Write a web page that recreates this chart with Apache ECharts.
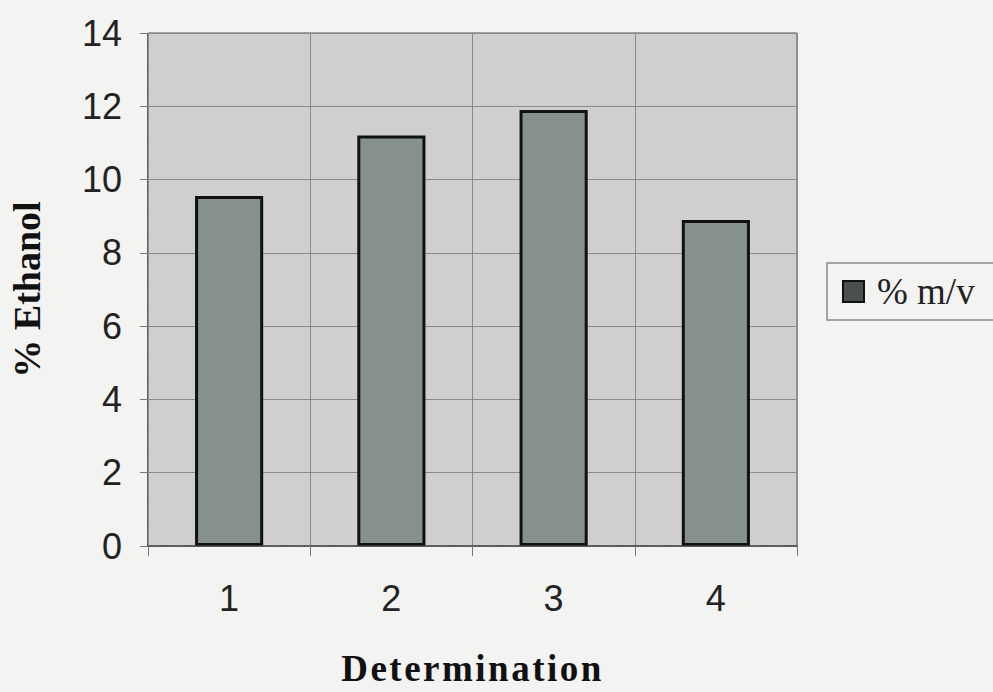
<!DOCTYPE html>
<html>
<head>
<meta charset="utf-8">
<script src="https://cdn.jsdelivr.net/npm/echarts@6/dist/echarts.min.js"></script>
<style>
html,body{margin:0;padding:0;background:#f3f3f1;}
#chart{width:993px;height:692px;}
</style>
</head>
<body>
<div id="chart"></div>
<script>
const categories = ['1', '2', '3', '4'];
const ethanolValues = [9.55, 11.2, 11.9, 8.9];
const seriesName = '% m/v';
const yTicks = [0, 2, 4, 6, 8, 10, 12, 14];
const xTitle = 'Determination';
const yTitle = '% Ethanol';

const chart = echarts.init(document.getElementById('chart'), null, {renderer: 'svg'});
const option = {
  animation: false,
  backgroundColor: '#f3f3f1',
  grid: {
    left: 148, right: 196, top: 33, bottom: 143,
    show: true, backgroundColor: '#cfcfcf', borderColor: '#555', borderWidth: 1
  },
  legend: {
    data: [{name: seriesName, itemStyle: {color: '#4a504c', borderColor: '#111', borderWidth: 2}}],
    left: 827, top: 263,
    padding: [10, 40, 10, 15],
    borderColor: '#8a8a8a', borderWidth: 1.5,
    backgroundColor: 'transparent',
    icon: 'rect', itemWidth: 21, itemHeight: 21, itemGap: 10,
    textStyle: {fontFamily: 'Liberation Serif', fontSize: 37, color: '#222', padding: [0, 0, 0, 8]}
  },
  xAxis: {
    type: 'category',
    data: categories,
    name: xTitle,
    nameLocation: 'middle',
    nameGap: 104,
    nameTextStyle: {fontFamily: 'Liberation Serif', fontWeight: 'bold', fontSize: 37, color: '#111'},
    axisLine: {lineStyle: {color: '#444', width: 1.5, type: 'dotted'}},
    axisTick: {show: true, alignWithLabel: false, length: 10, lineStyle: {color: '#777'}},
    axisLabel: {fontFamily: 'Liberation Sans', fontSize: 36, color: '#222', margin: 34},
    splitLine: {show: true, lineStyle: {color: '#8a8a8a', width: 1}},
    z: 3
  },
  yAxis: {
    type: 'value',
    min: 0, max: 14, interval: 2,
    name: yTitle,
    nameLocation: 'middle',
    nameGap: 102,
    nameTextStyle: {fontFamily: 'Liberation Serif', fontWeight: 'bold', fontSize: 38, color: '#111'},
    axisLine: {show: true, lineStyle: {color: '#444', width: 1.5, type: 'dotted'}},
    axisTick: {show: true, length: 8, lineStyle: {color: '#777'}},
    axisLabel: {fontFamily: 'Liberation Sans', fontSize: 36, color: '#222', margin: 26,
      formatter: v => yTicks.includes(v) ? String(v) : ''},
    splitLine: {show: true, lineStyle: {color: '#8a8a8a', width: 1}}
  },
  series: [{
    name: seriesName,
    type: 'bar',
    data: ethanolValues,
    barWidth: '42%',
    itemStyle: {color: '#86918b', borderColor: '#111', borderWidth: 3}
  }]
};
chart.setOption(option);

function spaceText() {
  const texts = document.querySelectorAll('#chart text');
  texts.forEach(t => {
    if (t.textContent === xTitle) {
      t.setAttribute('letter-spacing', '2.5');
      t.style.letterSpacing = '2.5px';
    }
  });
}
chart.on('finished', spaceText);
spaceText();
</script>
</body>
</html>
